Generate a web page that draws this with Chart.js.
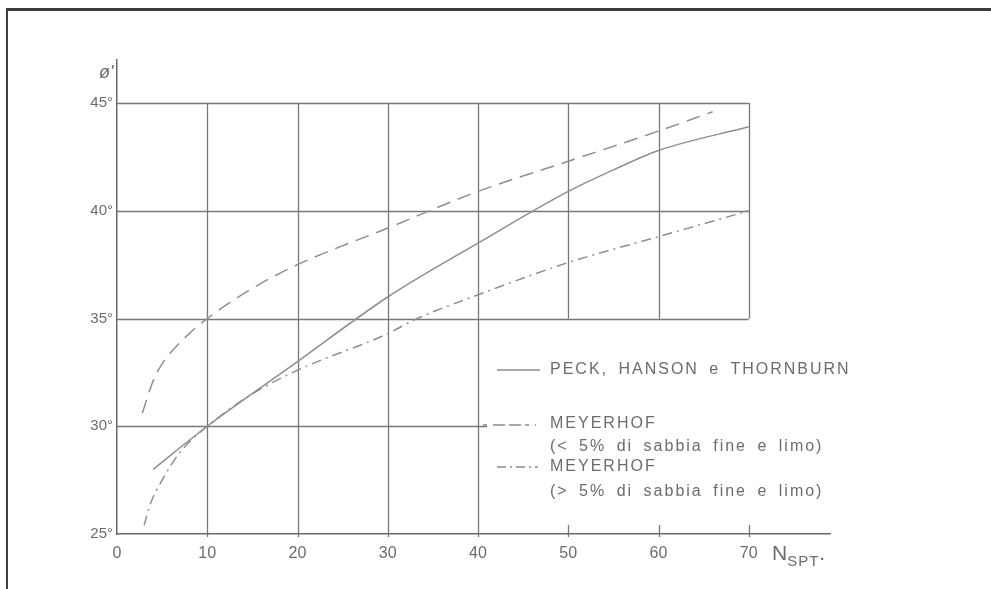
<!DOCTYPE html>
<html lang="it">
<head>
    <meta charset="UTF-8">
    <title>Angolo di attrito - NSPT</title>
    <script src="https://cdn.jsdelivr.net/npm/chart.js"></script>
    <style>
        body {
            margin: 0;
            background: #fff;
            font-family: 'Liberation Sans', Arial, sans-serif;
        }

        .sheet {
            position: relative;
            width: 991px;
            height: 589px;
            overflow: hidden;
        }

        /* scanned page frame */
        .frame {
            position: absolute;
            left: 6px;
            top: 8px;
            width: 990px;
            height: 578px;
            border-top: 3px solid #3a3f44;
            border-left: 2px solid #3a3f44;
            border-bottom: 1px solid #e6e3d8;
        }

        .chart-box {
            position: absolute;
            left: 0;
            top: 0;
            width: 991px;
            height: 589px;
        }

        .txt {
            position: absolute;
            color: #6c6c6c;
            white-space: nowrap;
            font-size: 16px;
            letter-spacing: 2px;
            word-spacing: 4px;
        }

        .key {
            position: absolute;
            overflow: visible;
        }
    </style>
</head>
<body>
    <div class="sheet">
        <div class="frame"></div>
        <div class="chart-box">
            <canvas id="phiChart"></canvas>
        </div>

        <!-- axis titles -->
        <div class="txt" style="left:99px; top:62px; font-size:18px; letter-spacing:0; font-style:italic;">ø'</div>
        <div class="txt" style="left:772px; top:541px; font-size:21px; letter-spacing:0;">N<span style="font-size:15px; position:relative; top:6px; letter-spacing:1px;">SPT</span>.</div>

        <!-- legend -->
        <svg class="key" style="left:480px; top:360px;" width="70" height="120">
            <g stroke="#8c8c8c" stroke-width="1.5" fill="none">
                <line x1="17" y1="10" x2="60" y2="10"/>
                <line x1="3" y1="65" x2="56" y2="65" stroke-dasharray="4 6 12 4 12 4"/>
                <line x1="17" y1="107" x2="58" y2="107" stroke-dasharray="9 4 2 4"/>
            </g>
        </svg>
        <div class="txt" style="left:550px; top:360px;">PECK, HANSON e THORNBURN</div>
        <div class="txt" style="left:550px; top:414px;">MEYERHOF</div>
        <div class="txt" style="left:550px; top:437px;">(&lt; 5% di sabbia fine e limo)</div>
        <div class="txt" style="left:550px; top:457px;">MEYERHOF</div>
        <div class="txt" style="left:550px; top:482px;">(&gt; 5% di sabbia fine e limo)</div>
    </div>

    <script>
        // Tick labels
        const xTicks = [0, 10, 20, 30, 40, 50, 60, 70];
        const yTicks = [25, 30, 35, 40, 45];

        // Peck, Hanson e Thornburn
        const nPeck = [4, 10, 20, 30, 40, 50, 55, 60, 70];
        const phiPeck = [28.0, 30.0, 33.0, 36.0, 38.5, 40.9, 41.9, 42.8, 43.9];

        // Meyerhof (< 5% di sabbia fine e limo)
        const nMeyerFine = [2.8, 4, 5, 8, 10, 15, 20, 30, 40, 50, 60, 66];
        const phiMeyerFine = [30.6, 32.1, 32.9, 34.3, 35.0, 36.4, 37.5, 39.2, 40.9, 42.3, 43.7, 44.6];

        // Meyerhof (> 5% di sabbia fine e limo)
        const nMeyerSilt = [3, 3.7, 5, 7, 10, 15, 20, 30, 33, 40, 50, 60, 70];
        const phiMeyerSilt = [25.4, 26.4, 27.5, 28.8, 30.0, 31.5, 32.6, 34.3, 34.95, 36.1, 37.6, 38.8, 40.0];

        const toPoints = (xs, ys) => xs.map((v, i) => ({ x: v, y: ys[i] }));

        // grid of the original sheet: lines at 50-70 stop at 35° above the legend,
        // the 30° line stops near the legend, short ticks on the N axis
        const sheetGrid = {
            id: 'sheetGrid',
            beforeDatasetsDraw(chart) {
                const { ctx, scales: { x, y } } = chart;
                const base = y.getPixelForValue(25);
                ctx.save();
                ctx.strokeStyle = '#777';
                ctx.lineWidth = 1.3;
                ctx.beginPath();
                xTicks.slice(1).forEach(v => {
                    const px = Math.round(x.getPixelForValue(v)) + 0.5;
                    const bottom = v > 40 ? y.getPixelForValue(35) : base + 3;
                    ctx.moveTo(px, y.getPixelForValue(45));
                    ctx.lineTo(px, bottom);
                    if (v > 40) {
                        ctx.moveTo(px, base - 9);
                        ctx.lineTo(px, base + 3);
                    }
                });
                [[30, 41], [35, 70], [40, 70], [45, 70]].forEach(([v, end]) => {
                    const py = Math.round(y.getPixelForValue(v)) + 0.5;
                    ctx.moveTo(x.getPixelForValue(0), py);
                    ctx.lineTo(x.getPixelForValue(end), py);
                });
                ctx.stroke();
                ctx.restore();
            }
        };

        const lineStyle = {
            pointRadius: 0,
            borderWidth: 1.5,
            tension: 0.4,
            cubicInterpolationMode: 'monotone',
            fill: false
        };

        new Chart(document.getElementById('phiChart'), {
            type: 'line',
            data: {
                datasets: [
                    { label: 'PECK, HANSON e THORNBURN', data: toPoints(nPeck, phiPeck),
                      borderColor: '#8e8e8e', ...lineStyle },
                    { label: 'MEYERHOF (< 5% di sabbia fine e limo)', data: toPoints(nMeyerFine, phiMeyerFine),
                      borderColor: '#8e8e8e', borderDash: [14, 8], ...lineStyle },
                    { label: 'MEYERHOF (> 5% di sabbia fine e limo)', data: toPoints(nMeyerSilt, phiMeyerSilt),
                      borderColor: '#8e8e8e', borderDash: [10, 5, 2, 5], ...lineStyle }
                ]
            },
            options: {
                responsive: true,
                maintainAspectRatio: false,
                animation: false,
                layout: { padding: { left: 0, right: 161, top: 60, bottom: 0 } },
                plugins: {
                    legend: { display: false },
                    tooltip: { enabled: false }
                },
                scales: {
                    x: {
                        type: 'linear',
                        min: 0,
                        max: 79,
                        afterBuildTicks: scale => { scale.ticks = xTicks.map(v => ({ value: v })); },
                        afterFit: scale => { scale.height = 55; },
                        grid: { display: false, drawTicks: false },
                        border: { display: true, color: '#6a6a6a', width: 1.5 },
                        ticks: {
                            padding: 10,
                            color: '#6c6c6c',
                            font: { family: "'Liberation Sans', Arial, sans-serif", size: 16 }
                        }
                    },
                    y: {
                        type: 'linear',
                        min: 25,
                        max: 47,
                        afterBuildTicks: scale => { scale.ticks = yTicks.map(v => ({ value: v })); },
                        afterFit: scale => { scale.width = 117; },
                        grid: { display: false, drawTicks: false },
                        border: { display: true, color: '#6a6a6a', width: 1.5 },
                        ticks: {
                            padding: 4,
                            color: '#6c6c6c',
                            font: { family: "'Liberation Sans', Arial, sans-serif", size: 15 },
                            callback: v => v + '°'
                        }
                    }
                }
            },
            plugins: [sheetGrid]
        });
    </script>
</body>
</html>
